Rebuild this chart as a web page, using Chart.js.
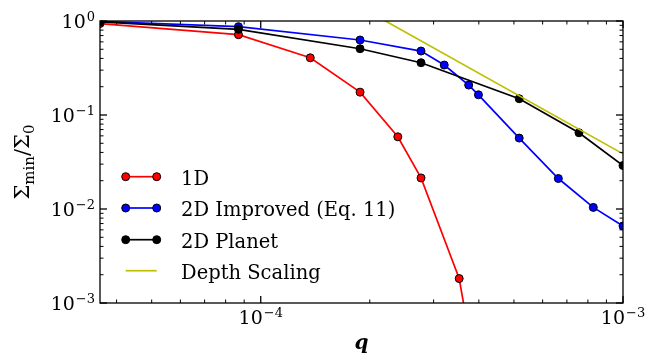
<!DOCTYPE html>
<html>
<head>
<meta charset="utf-8">
<script src="https://cdn.jsdelivr.net/npm/chart.js@4.4.1/dist/chart.umd.min.js"></script>
<style>
  html, body { margin: 0; padding: 0; background: #fff; }
</style>
</head>
<body>
<canvas id="chart" width="658" height="356"></canvas>
<script>
// values
const q1D = [3.6e-5, 8.68e-5, 1.37e-4, 1.88e-4, 2.39e-4, 2.77e-4, 3.53e-4, 4.0e-4];
const sig1D = [0.94, 0.715, 0.406, 0.175, 0.0586, 0.0214, 0.00182, 0.00012];

const q2DImproved = [3.6e-5, 8.68e-5, 1.88e-4, 2.77e-4, 3.21e-4, 3.75e-4, 3.99e-4, 5.17e-4, 6.63e-4, 8.28e-4, 1.0e-3];
const sig2DImproved = [0.99, 0.87, 0.628, 0.479, 0.340, 0.208, 0.164, 0.0568, 0.0211, 0.0104, 0.0066];

const q2DPlanet = [3.6e-5, 8.68e-5, 1.88e-4, 2.77e-4, 5.17e-4, 7.56e-4, 1.0e-3];
const sig2DPlanet = [0.98, 0.816, 0.507, 0.360, 0.149, 0.0647, 0.029];

const qDepth = [2.0e-4, 1.0e-3];
const sigDepth = [1.24, 0.0386];

const seriesLabels = ["1D", "2D Improved (Eq. 11)", "2D Planet", "Depth Scaling"];
const xTickExps = [-4, -3];
const yTickExps = [0, -1, -2, -3];

const SERIF = "'DejaVu Serif', serif";

function pts(xs, ys) {
  return xs.map((x, i) => ({ x: x, y: ys[i] }));
}

function series(label, xs, ys, color, markers, order) {
  return {
    label: label,
    data: pts(xs, ys),
    borderColor: color,
    backgroundColor: color,
    borderWidth: 1.7,
    pointRadius: markers ? 4 : 0,
    pointBackgroundColor: color,
    pointBorderColor: "#000",
    pointBorderWidth: 1,
    tension: 0,
    clip: 0,
    order: order
  };
}

function drawPow(ctx, exp, x, y, align) {
  // "10" with a raised exponent; y is the baseline of "10"
  const base = "10";
  const sup = exp < 0 ? "\u2212" + Math.abs(exp) : String(exp);
  ctx.font = "19px " + SERIF;
  const wb = ctx.measureText(base).width;
  ctx.font = "13px " + SERIF;
  const ws = ctx.measureText(sup).width;
  const total = wb + ws + 1;
  let x0 = x;
  if (align === "right") x0 = x - total;
  if (align === "center") x0 = x - total / 2;
  ctx.textAlign = "left";
  ctx.textBaseline = "alphabetic";
  ctx.font = "19px " + SERIF;
  ctx.fillText(base, x0, y);
  ctx.font = "13px " + SERIF;
  ctx.fillText(sup, x0 + wb + 1, y - 7.5);
}

const axesDecor = {
  id: "axesDecor",
  afterDraw(chart) {
    const ctx = chart.ctx;
    const a = chart.chartArea;
    const xs = chart.scales.x;
    const ys = chart.scales.y;
    ctx.save();
    ctx.fillStyle = "#000";
    ctx.strokeStyle = "#000";

    // ticks on all four sides, pointing inwards
    function tick(x1, y1, x2, y2, w) {
      ctx.lineWidth = w;
      ctx.beginPath();
      ctx.moveTo(x1, y1);
      ctx.lineTo(x2, y2);
      ctx.stroke();
    }
    for (let e = -5; e <= -3; e++) {
      for (let k = 1; k <= 9; k++) {
        const v = k * Math.pow(10, e);
        if (v < xs.min * 0.999 || v > xs.max * 1.001) continue;
        const px = xs.getPixelForValue(v);
        const len = k === 1 ? 7 : 3.5;
        const w = k === 1 ? 1.3 : 1;
        tick(px, a.bottom, px, a.bottom - len, w);
        tick(px, a.top, px, a.top + len, w);
      }
    }
    for (let e = -3; e <= 0; e++) {
      for (let k = 1; k <= 9; k++) {
        const v = k * Math.pow(10, e);
        if (v < ys.min * 0.999 || v > ys.max * 1.001) continue;
        const py = ys.getPixelForValue(v);
        const len = k === 1 ? 7 : 3.5;
        const w = k === 1 ? 1.3 : 1;
        tick(a.left, py, a.left + len, py, w);
        tick(a.right, py, a.right - len, py, w);
      }
    }

    // frame
    ctx.lineWidth = 1.3;
    ctx.strokeRect(a.left, a.top, a.right - a.left, a.bottom - a.top);

    // tick labels
    yTickExps.forEach(e => {
      const py = ys.getPixelForValue(Math.pow(10, e));
      drawPow(ctx, e, a.left - 5, py + 7, "right");
    });
    xTickExps.forEach(e => {
      const px = xs.getPixelForValue(Math.pow(10, e));
      drawPow(ctx, e, px, a.bottom + 21, "center");
    });

    // x title
    ctx.font = "bold italic 20px " + SERIF;
    ctx.textAlign = "center";
    ctx.textBaseline = "alphabetic";
    ctx.fillText("q", (a.left + a.right) / 2, 349);

    // y title: Σmin/Σ0
    const parts = [
      { t: "\u03A3", s: 21, dy: 0 },
      { t: "min", s: 15, dy: 4.5 },
      { t: "/", s: 21, dy: 0 },
      { t: "\u03A3", s: 21, dy: 0 },
      { t: "0", s: 15, dy: 4.5 }
    ];
    let total = 0;
    parts.forEach(p => {
      ctx.font = p.s + "px " + SERIF;
      p.w = ctx.measureText(p.t).width;
      total += p.w;
    });
    ctx.save();
    ctx.translate(29, (a.top + a.bottom) / 2);
    ctx.rotate(-Math.PI / 2);
    ctx.textAlign = "left";
    let cx = -total / 2;
    parts.forEach(p => {
      ctx.font = p.s + "px " + SERIF;
      ctx.fillText(p.t, cx, p.dy);
      cx += p.w;
    });
    ctx.restore();

    // legend
    const rowY = [176.7, 208, 239.7, 270.7];
    chart.data.datasets.forEach((ds, i) => {
      const y = rowY[i];
      ctx.strokeStyle = ds.borderColor;
      ctx.lineWidth = ds.borderWidth;
      ctx.beginPath();
      ctx.moveTo(125.7, y);
      ctx.lineTo(156.7, y);
      ctx.stroke();
      if (ds.pointRadius > 0) {
        [125.7, 156.7].forEach(mx => {
          ctx.beginPath();
          ctx.arc(mx, y, ds.pointRadius, 0, Math.PI * 2);
          ctx.fillStyle = ds.pointBackgroundColor;
          ctx.fill();
          ctx.lineWidth = ds.pointBorderWidth;
          ctx.strokeStyle = ds.pointBorderColor;
          ctx.stroke();
        });
      }
      ctx.fillStyle = "#000";
      ctx.font = "19.5px " + SERIF;
      ctx.textAlign = "left";
      ctx.textBaseline = "alphabetic";
      ctx.fillText(ds.label, 181, y + 8);
    });
    ctx.restore();
  }
};

new Chart(document.getElementById("chart"), {
  type: "line",
  data: {
    datasets: [
      series(seriesLabels[0], q1D, sig1D, "#ff0000", true, 3),
      series(seriesLabels[1], q2DImproved, sig2DImproved, "#0000ff", true, 2),
      series(seriesLabels[2], q2DPlanet, sig2DPlanet, "#000000", true, 1),
      series(seriesLabels[3], qDepth, sigDepth, "#bfbf00", false, 0)
    ]
  },
  options: {
    responsive: false,
    animation: false,
    devicePixelRatio: 1,
    layout: { padding: { left: 100, top: 21, right: 35, bottom: 53 } },
    scales: {
      x: { type: "logarithmic", min: 3.6e-5, max: 1e-3, display: false },
      y: { type: "logarithmic", min: 1e-3, max: 1, display: false }
    },
    plugins: {
      legend: { display: false },
      tooltip: { enabled: false }
    }
  },
  plugins: [axesDecor]
});
</script>
</body>
</html>
